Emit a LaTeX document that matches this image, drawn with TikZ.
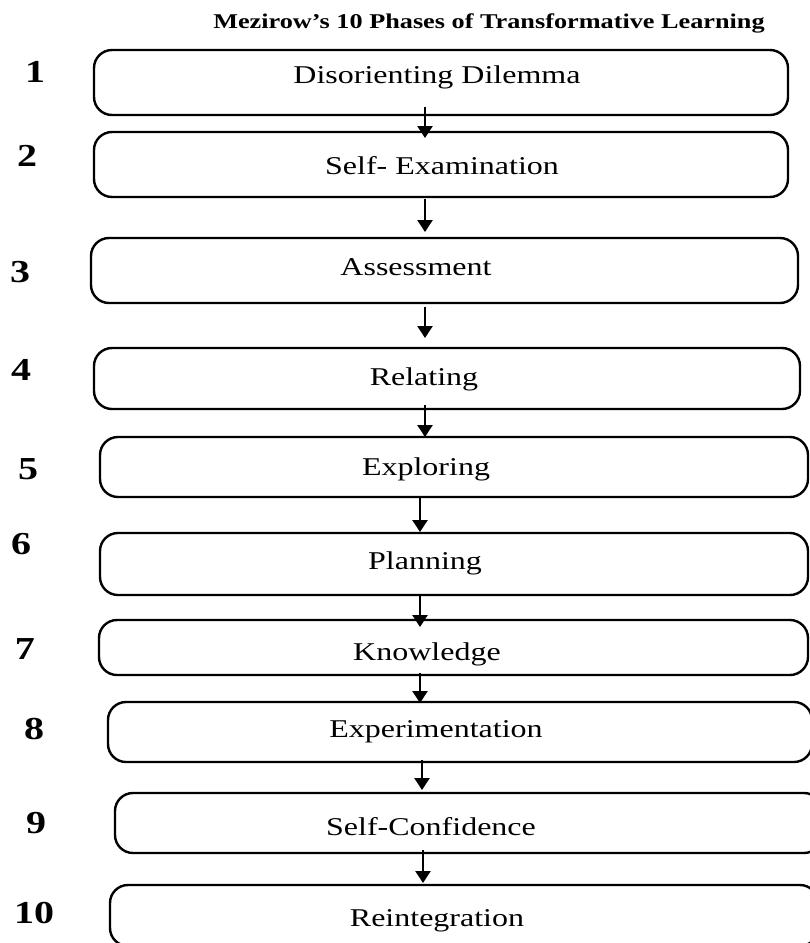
\documentclass[tikz,border=0pt]{standalone}
\usepackage{fontspec}
\setmainfont{Liberation Serif}[FakeStretch=1.25]
\usetikzlibrary{arrows.meta}
\begin{document}
\begin{tikzpicture}[x=1pt,y=-1pt,
  box/.style={draw=black, line width=2.4pt, rounded corners=18pt, inner sep=0pt},
  lbl/.style={anchor=base, inner sep=0pt, font=\fontsize{25.6}{30}\selectfont},
  num/.style={anchor=base, inner sep=0pt, font=\fontsize{32}{36}\selectfont\bfseries},
  ttl/.style={anchor=base, inner sep=0pt, font=\fontsize{21}{25}\selectfont\bfseries},
  arr/.style={line width=2.6pt, -{Triangle[length=12pt,width=15pt]}}]
\useasboundingbox (0,0) rectangle (810,943);
\fill[white] (0,0) rectangle (810,943);

\node[ttl] (title) at (489,28) {Mezirow’s 10 Phases of Transformative Learning};

% boxes
\node[box, minimum width=694pt, minimum height=65pt] (b1) at (441,82.5) {};
\node[box, minimum width=694pt, minimum height=65pt] (b2) at (441,164.5) {};
\node[box, minimum width=707pt, minimum height=65pt] (b3) at (444.5,270.5) {};
\node[box, minimum width=706pt, minimum height=61pt] (b4) at (447,378.5) {};
\node[box, minimum width=708pt, minimum height=60pt] (b5) at (454,467) {};
\node[box, minimum width=708pt, minimum height=62pt] (b6) at (454,564) {};
\node[box, minimum width=709pt, minimum height=55pt] (b7) at (453.5,647.5) {};
\node[box, minimum width=704pt, minimum height=60pt] (b8) at (460,732) {};
\node[box, minimum width=707pt, minimum height=60pt] (b9) at (468.5,823) {};
\node[box, minimum width=708pt, minimum height=61pt] (b10) at (464,915.5) {};

% labels
\node[lbl] (t1) at (437,83) {Disorienting Dilemma};
\node[lbl] (t2) at (442,174) {Self- Examination};
\node[lbl] (t3) at (416,275) {Assessment};
\node[lbl] (t4) at (424,385) {Relating};
\node[lbl] (t5) at (426,475) {Exploring};
\node[lbl] (t6) at (425,569) {Planning};
\node[lbl] (t7) at (427,660) {Knowledge};
\node[lbl] (t8) at (436,737) {Experimentation};
\node[lbl] (t9) at (431,835) {Self-Confidence};
\node[lbl] (t10) at (437,926) {Reintegration};

% numbers
\node[num] (n1) at (35,82) {1};
\node[num] (n2) at (27,166) {2};
\node[num] (n3) at (20,282) {3};
\node[num] (n4) at (21,380) {4};
\node[num] (n5) at (28,479) {5};
\node[num] (n6) at (21,554) {6};
\node[num] (n7) at (25,659) {7};
\node[num] (n8) at (34,739) {8};
\node[num] (n9) at (36,833) {9};
\node[num] (n10) at (34,923) {10};

% arrow ends
\coordinate (s1) at (425,107); \coordinate (e1) at (425,138);
\coordinate (s2) at (425,199); \coordinate (e2) at (425,232);
\coordinate (s3) at (425,307); \coordinate (e3) at (425,338);
\coordinate (s4) at (425,405); \coordinate (e4) at (425,437);
\coordinate (s5) at (420,498); \coordinate (e5) at (420,532);
\coordinate (s6) at (420,595); \coordinate (e6) at (420,627);
\coordinate (s7) at (420,673); \coordinate (e7) at (420,703);
\coordinate (s8) at (422,760); \coordinate (e8) at (422,790);
\coordinate (s9) at (423,850); \coordinate (e9) at (423,883);
\foreach \i in {1,...,9}{\draw[arr] (s\i) -- (e\i);}
\end{tikzpicture}
\end{document}
